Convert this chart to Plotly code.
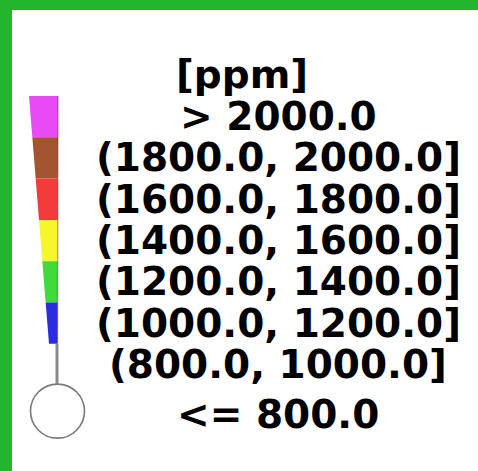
import plotly.graph_objects as go

# Legend bins, listed from the top of the thermometer down
unit_label = "[ppm]"
bin_labels = [
    "> 2000.0",
    "(1800.0, 2000.0]",
    "(1600.0, 1800.0]",
    "(1400.0, 1600.0]",
    "(1200.0, 1400.0]",
    "(1000.0, 1200.0]",
    "(800.0, 1000.0]",
    "<= 800.0",
]
bin_colors = ["#E84AF6", "#A3552F", "#F43B3B", "#F6F62C", "#3EDB3A", "#2B2BE2", None, None]

W, H = 478, 471
BORDER = "#23B52B"
LABEL_FONT = dict(family="DejaVu Sans", size=39, color="#000000", weight="bold")

# thermometer geometry (pixel space)
top_y = 96.0
seg_h = 41.3
left_top, left_bot = 29.0, 49.0
right_top, right_bot = 58.0, 57.5
n_col = sum(c is not None for c in bin_colors)
bot_y = top_y + n_col * seg_h


def edge(y, a, b):
    t = (y - top_y) / (bot_y - top_y)
    return a + (b - a) * t


fig = go.Figure()
shapes = []
annotations = []

for i, (lab, col) in enumerate(zip(bin_labels, bin_colors)):
    y0 = top_y + i * seg_h
    y1 = y0 + seg_h
    yc = (y0 + y1) / 2
    if col is not None:
        xs = [edge(y0, left_top, left_bot), edge(y0, right_top, right_bot),
              edge(y1, right_top, right_bot), edge(y1, left_top, left_bot)]
        ys = [y0, y0, y1, y1]
        fig.add_trace(go.Scatter(
            x=xs + [xs[0]], y=ys + [ys[0]], fill="toself", fillcolor=col,
            mode="lines", line=dict(width=0), hoverinfo="skip", showlegend=False))
    elif i == n_col:
        # stem below the coloured column
        xs_stem = right_bot - 0.5
        fig.add_trace(go.Scatter(
            x=[xs_stem, xs_stem], y=[y0, y1], mode="lines",
            line=dict(color="#8A8A8A", width=3), hoverinfo="skip", showlegend=False))
    else:
        # bulb for the lowest bin
        r = 27
        cy = y0 + 26
        cx = right_bot
        shapes.append(dict(type="circle", xref="x", yref="y",
                           x0=cx - r, x1=cx + r, y0=cy - r, y1=cy + r,
                           line=dict(color="#7A7A7A", width=1.6), fillcolor="white"))
        yc = cy + 3
    annotations.append(dict(x=278, y=yc, xref="x", yref="y", text=lab, showarrow=False,
                            xanchor="center", yanchor="middle", font=LABEL_FONT))

# dark shading along the right side of the column
fig.add_trace(go.Scatter(x=[right_top, right_bot], y=[top_y, bot_y], mode="lines",
                         line=dict(color="rgba(60,30,30,0.35)", width=1.5),
                         hoverinfo="skip", showlegend=False))

annotations.append(dict(x=242, y=top_y - 22, xref="x", yref="y", text=unit_label,
                        showarrow=False, xanchor="center", yanchor="middle",
                        font=LABEL_FONT))

# green frame along the top and left edges
shapes.append(dict(type="rect", xref="x", yref="y", x0=0, x1=W, y0=0, y1=10,
                   fillcolor=BORDER, line=dict(width=0), layer="above"))
shapes.append(dict(type="rect", xref="x", yref="y", x0=0, x1=12, y0=0, y1=H,
                   fillcolor=BORDER, line=dict(width=0), layer="above"))

fig.update_layout(
    width=W, height=H, margin=dict(l=0, r=0, t=0, b=0),
    paper_bgcolor="white", plot_bgcolor="white",
    xaxis=dict(range=[0, W], visible=False, fixedrange=True),
    yaxis=dict(range=[H, 0], visible=False, fixedrange=True),
    shapes=shapes, annotations=annotations,
)

fig.write_html("out.html")
